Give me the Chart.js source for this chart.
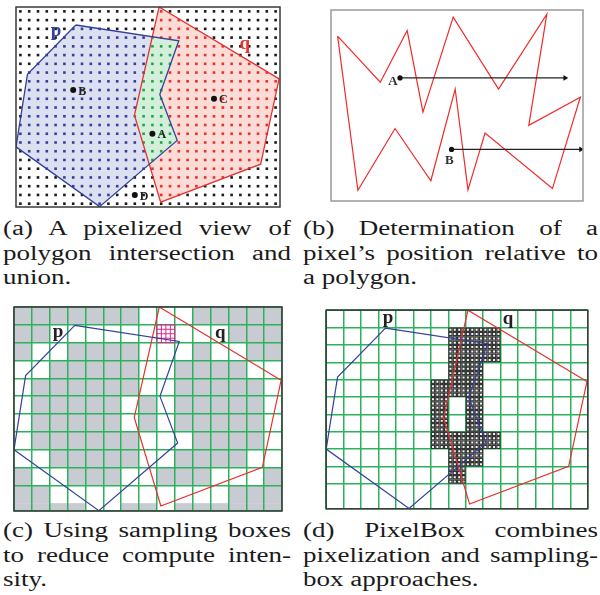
<!DOCTYPE html>
<html><head><meta charset="utf-8">
<script src="https://cdn.jsdelivr.net/npm/chart.js@4/dist/chart.umd.min.js"></script>
<style>
html,body{margin:0;padding:0;background:#fff}
body{width:600px;height:595px;position:relative;overflow:hidden}
canvas.pc{position:absolute}
.cap{position:absolute;font-family:"Liberation Serif","Times New Roman",serif;font-size:20px;line-height:24.5px;color:#1a1a1a;transform:scaleX(1.35);transform-origin:0 0}
.cap div{white-space:nowrap}
.cap div.j{text-align:justify;text-align-last:justify}
</style></head><body>
<canvas id="ca" class="pc" width="272" height="208" style="left:12px;top:3px"></canvas>
<canvas id="cb" class="pc" width="260" height="199" style="left:327px;top:6px"></canvas>
<canvas id="cc" class="pc" width="272" height="208" style="left:12px;top:305px"></canvas>
<canvas id="cd" class="pc" width="272" height="209" style="left:321px;top:305px"></canvas>
<div id="capA" class="cap" style="left:3px;top:216px;width:213.3px"></div>
<div id="capB" class="cap" style="left:303px;top:216px;width:218.5px"></div>
<div id="capC" class="cap" style="left:3px;top:518px;width:213.3px"></div>
<div id="capD" class="cap" style="left:303px;top:518px;width:218.5px"></div>
<script>
// ================= DATA =================
// polygons p and q (grid-cell units, y downward)
const P_X = [3.40, 9.25, 8.17, 9.16, 4.75, 0.00, 0.65];
const P_Y = [1.03, 1.93, 5.01, 7.63, 11.42, 8.00, 3.85];
const Q_X = [8.13, 14.95, 13.90, 8.22, 6.73];
const Q_Y = [0.00, 4.11, 8.99, 11.16, 6.19];
const GRID_X_MAX = 15;
const GRID_Y_MAX = 11.44;
// labelled pixels in (a)
const MARK_NAMES = ['A', 'B', 'C', 'D'];
const MARK_X = [7.75, 3.25, 11.25, 6.75];
const MARK_Y = [7.25, 4.75, 5.25, 10.75];
// zig-zag polygon of (b)
const ZZ_X = [6.7, 50.0, 77.3, 93.3, 124.0, 170.0, 219.0, 200.7, 253.0, 224.7, 156.3, 139.0, 126.0, 101.3, 65.0, 27.3];
const ZZ_Y = [26.7, 73.7, 21.0, 104.3, 7.3, 80.7, 4.3, 117.7, 89.0, 182.3, 125.7, 183.7, 80.7, 174.3, 121.0, 184.0];
const B_X_MAX = 255.7, B_Y_MAX = 195;
const RAY_NAMES = ['A', 'B'];
const RAY_X0 = [70.0, 122.3];
const RAY_X1 = [237.5, 253.5];
const RAY_Y = [69.3, 142.3];
// (c) sampling boxes that need no pixel test (grey), listed by row
const GREY_CELLS = [
  [0,1,2,3,4,5,6,10,11,12,13,14],
  [0,1,12,13,14],
  [0,3,4,5,6,10,13,14],
  [2,3,4,5,6,9,10,11,12],
  [1,2,3,4,5,6,9,10,11,12,13],
  [1,2,3,4,5,7,9,10,11,12,13],
  [1,2,3,4,5,7,9,10,11,12,13],
  [1,2,3,4,5,6,10,11,12,13],
  [2,3,4,5,6,9,10,11,12],
  [0,3,4,5,8,9,10,14],
  [0,1,12,13,14],
  [0,1,2,3,6,7,9,10,11,12,13,14]
];
const SAMPLE_CELL_COL = 8, SAMPLE_CELL_ROW = 1, SAMPLE_SUBDIV = 4;
// (d) boxes evaluated pixel by pixel, listed by row
const PIXEL_CELLS = [
  [], [7,8,9], [7,8,9], [7,8], [6,7,8], [6,8], [6,8], [6,7,8,9], [7,8], [7], [], []
];
const PIXELS_PER_BOX = 4;
// captions
const CAP_A = ['(a) A pixelized view of', 'polygon intersection and', 'union.'];
const CAP_B = ['(b) Determination of a', 'pixel\u2019s position relative to', 'a polygon.'];
const CAP_C = ['(c) Using sampling boxes', 'to reduce compute inten-', 'sity.'];
const CAP_D = ['(d) PixelBox combines', 'pixelization and sampling-', 'box approaches.'];

// ================= STYLE =================
const BLUE = '#34409c', RED = '#e8302e', GREEN_DOT = '#1fa64a';
const FILL_P = '#dde0f0', FILL_Q = '#fbdcd6', FILL_PQ = '#d3eed9';
const GRID_GREEN = '#2bb25c', GREY = '#c9cbd2', PINK = '#e0268c';
const SERIF = '"Liberation Serif","Times New Roman",serif';

function captions(id, lines) {
  const el = document.getElementById(id);
  lines.forEach((t, i) => {
    const d = document.createElement('div');
    d.textContent = t;
    if (i < lines.length - 1) d.className = 'j';
    el.appendChild(d);
  });
}
captions('capA', CAP_A); captions('capB', CAP_B); captions('capC', CAP_C); captions('capD', CAP_D);

const pts = (xs, ys) => xs.map((x, i) => ({x, y: ys[i]}));
const closed = (xs, ys) => { const a = pts(xs, ys); a.push(a[0]); return a; };

function inPoly(x, y, xs, ys) {
  let inside = false;
  for (let i = 0, j = xs.length - 1; i < xs.length; j = i++) {
    if ((ys[i] > y) !== (ys[j] > y) && x < (xs[j] - xs[i]) * (y - ys[i]) / (ys[j] - ys[i]) + xs[i]) inside = !inside;
  }
  return inside;
}

function polyPath(chart, xs, ys) {
  const ctx = chart.ctx, sx = chart.scales.x, sy = chart.scales.y;
  ctx.beginPath();
  xs.forEach((x, i) => {
    const px = sx.getPixelForValue(x), py = sy.getPixelForValue(ys[i]);
    if (i) ctx.lineTo(px, py); else ctx.moveTo(px, py);
  });
  ctx.closePath();
}

const framePlugin = {
  id: 'frame',
  afterDraw(chart, args, o) {
    const a = chart.chartArea, ctx = chart.ctx;
    ctx.save(); ctx.strokeStyle = o.color; ctx.lineWidth = o.width;
    ctx.strokeRect(a.left, a.top, a.right - a.left, a.bottom - a.top);
    ctx.restore();
  }
};
const labelPlugin = {
  id: 'labels',
  afterDatasetsDraw(chart, args, o) {
    const ctx = chart.ctx, sx = chart.scales.x, sy = chart.scales.y;
    ctx.save();
    (o.items || []).forEach(it => {
      ctx.font = it.font; ctx.fillStyle = it.color;
      ctx.textAlign = it.align || 'center'; ctx.textBaseline = 'middle';
      ctx.fillText(it.text, sx.getPixelForValue(it.x) + (it.dx || 0), sy.getPixelForValue(it.y) + (it.dy || 0));
    });
    ctx.restore();
  }
};

function baseOptions(xmax, ymax, showGrid, extraPlugins) {
  const axis = (max, rev) => ({
    type: 'linear', min: 0, max: max, reverse: rev, display: showGrid,
    ticks: {display: false, stepSize: 1},
    grid: {display: showGrid, color: GRID_GREEN, lineWidth: 1.5, drawTicks: false},
    border: {display: false}
  });
  return {
    responsive: false, animation: false, events: [],
    layout: {padding: 2},
    plugins: Object.assign({legend: {display: false}, tooltip: {enabled: false}}, extraPlugins),
    scales: {x: axis(xmax, false), y: axis(ymax, true)}
  };
}
const outline = (data, color, w) => ({type: 'scatter', data, showLine: true, borderColor: color, borderWidth: w, pointRadius: 0, fill: false});

// ================= (a) =================
(function () {
  const groups = {out: [], p: [], q: [], pq: []};
  for (let gy = 0.25; gy < GRID_Y_MAX; gy += 0.5) {
    for (let gx = 0.25; gx < GRID_X_MAX; gx += 0.5) {
      if (MARK_X.some((mx, i) => Math.abs(mx - gx) < 0.01 && Math.abs(MARK_Y[i] - gy) < 0.01)) continue;
      const ip = inPoly(gx, gy, P_X, P_Y), iq = inPoly(gx, gy, Q_X, Q_Y);
      (ip && iq ? groups.pq : ip ? groups.p : iq ? groups.q : groups.out).push({x: gx, y: gy});
    }
  }
  const dots = (data, c) => ({type: 'scatter', data, pointStyle: 'rect', pointRadius: 1.85, backgroundColor: c, borderWidth: 0});
  const fills = {
    id: 'fills',
    beforeDatasetsDraw(chart) {
      const ctx = chart.ctx; ctx.save();
      polyPath(chart, P_X, P_Y); ctx.fillStyle = FILL_P; ctx.fill();
      polyPath(chart, Q_X, Q_Y); ctx.fillStyle = FILL_Q; ctx.fill();
      polyPath(chart, P_X, P_Y); ctx.clip();
      polyPath(chart, Q_X, Q_Y); ctx.fillStyle = FILL_PQ; ctx.fill();
      ctx.restore();
    }
  };
  const markLabels = MARK_NAMES.map((n, i) => ({text: n, x: MARK_X[i], y: MARK_Y[i], dx: 5, dy: 1.5, align: 'left', font: 'bold 12px ' + SERIF, color: '#222'}));
  new Chart(document.getElementById('ca'), {
    type: 'scatter',
    data: {datasets: [
      outline(closed(P_X, P_Y), BLUE, 1.3),
      outline(closed(Q_X, Q_Y), RED, 1.3),
      {type: 'scatter', data: pts(MARK_X, MARK_Y), pointStyle: 'circle', pointRadius: 3, backgroundColor: '#111', borderWidth: 0},
      dots(groups.out, '#1a1a1a'),
      dots(groups.p, BLUE),
      dots(groups.q, RED),
      dots(groups.pq, GREEN_DOT)
    ]},
    options: baseOptions(GRID_X_MAX, GRID_Y_MAX, false, {
      frame: {color: '#3a3a3a', width: 1.5},
      labels: {items: [
        {text: 'p', x: 2.28, y: 1.36, font: 'bold 19px ' + SERIF, color: BLUE},
        {text: 'q', x: 13.0, y: 2.11, font: 'bold 19px ' + SERIF, color: RED}
      ].concat(markLabels)}
    }),
    plugins: [fills, framePlugin, labelPlugin]
  });
})();

// ================= (b) =================
(function () {
  const rays = RAY_NAMES.map((n, i) => ({
    type: 'scatter', showLine: true, borderColor: '#222', borderWidth: 1.3,
    data: [{x: RAY_X0[i], y: RAY_Y[i]}, {x: RAY_X1[i], y: RAY_Y[i]}],
    pointStyle: ['circle', 'triangle'], pointRadius: [2.6, 3.2], rotation: [0, 90],
    backgroundColor: '#111', pointBorderWidth: 0
  }));
  const rayLabels = [
    {text: RAY_NAMES[0], x: RAY_X0[0], y: RAY_Y[0], dx: -7, dy: 3.5},
    {text: RAY_NAMES[1], x: RAY_X0[1], y: RAY_Y[1], dx: -2.3, dy: 11.7}
  ].map(o => Object.assign(o, {font: 'bold 13px ' + SERIF, color: '#333'}));
  new Chart(document.getElementById('cb'), {
    type: 'scatter',
    data: {datasets: rays.concat([outline(closed(ZZ_X, ZZ_Y), '#f02a2a', 1.2)])},
    options: baseOptions(B_X_MAX, B_Y_MAX, false, {
      frame: {color: '#9a9a9a', width: 1.5},
      labels: {items: rayLabels}
    }),
    plugins: [framePlugin, labelPlugin]
  });
})();

// ================= (c) =================
(function () {
  const greyPlugin = {
    id: 'grey',
    beforeDraw(chart) {
      const ctx = chart.ctx, sx = chart.scales.x, sy = chart.scales.y, a = chart.chartArea;
      ctx.save(); ctx.fillStyle = GREY;
      GREY_CELLS.forEach((cols, r) => cols.forEach(c => {
        const x0 = sx.getPixelForValue(c), x1 = sx.getPixelForValue(c + 1);
        const y0 = sy.getPixelForValue(r), y1 = Math.min(sy.getPixelForValue(r + 1), a.bottom);
        ctx.fillRect(x0, y0, x1 - x0, y1 - y0);
      }));
      ctx.restore();
    },
    beforeDatasetsDraw(chart) {
      const ctx = chart.ctx, sx = chart.scales.x, sy = chart.scales.y;
      ctx.save(); ctx.strokeStyle = PINK; ctx.lineWidth = 1;
      for (let k = 0; k <= SAMPLE_SUBDIV; k++) {
        const f = k / SAMPLE_SUBDIV;
        const x = sx.getPixelForValue(SAMPLE_CELL_COL + f), y = sy.getPixelForValue(SAMPLE_CELL_ROW + f);
        ctx.beginPath();
        ctx.moveTo(x, sy.getPixelForValue(SAMPLE_CELL_ROW)); ctx.lineTo(x, sy.getPixelForValue(SAMPLE_CELL_ROW + 1));
        ctx.moveTo(sx.getPixelForValue(SAMPLE_CELL_COL), y); ctx.lineTo(sx.getPixelForValue(SAMPLE_CELL_COL + 1), y);
        ctx.stroke();
      }
      ctx.restore();
    }
  };
  new Chart(document.getElementById('cc'), {
    type: 'scatter',
    data: {datasets: [outline(closed(P_X, P_Y), BLUE, 1.2), outline(closed(Q_X, Q_Y), RED, 1.2)]},
    options: baseOptions(GRID_X_MAX, GRID_Y_MAX, true, {
      frame: {color: '#3a3a3a', width: 1.5},
      labels: {items: [
        {text: 'p', x: 2.47, y: 1.40, font: 'bold 19px ' + SERIF, color: '#222'},
        {text: 'q', x: 11.54, y: 1.46, font: 'bold 19px ' + SERIF, color: '#222'}
      ]}
    }),
    plugins: [greyPlugin, framePlugin, labelPlugin]
  });
})();

// ================= (d) =================
(function () {
  const px = [];
  const step = 1 / PIXELS_PER_BOX;
  PIXEL_CELLS.forEach((cols, r) => cols.forEach(c => {
    for (let i = 0; i < PIXELS_PER_BOX; i++) for (let j = 0; j < PIXELS_PER_BOX; j++)
      px.push({x: c + (i + 0.5) * step, y: r + (j + 0.5) * step});
  }));
  new Chart(document.getElementById('cd'), {
    type: 'scatter',
    data: {datasets: [
      outline(closed(P_X, P_Y), BLUE, 1.2),
      outline(closed(Q_X, Q_Y), RED, 1.2),
      {type: 'scatter', data: px, pointStyle: 'rect', pointRadius: 2.25, backgroundColor: '#f4f4f4', borderColor: '#333', borderWidth: 1.2}
    ]},
    options: baseOptions(GRID_X_MAX, GRID_Y_MAX, true, {
      frame: {color: '#3a3a3a', width: 1.5},
      labels: {items: [
        {text: 'p', x: 3.55, y: 0.47, font: 'bold 19px ' + SERIF, color: '#222'},
        {text: 'q', x: 10.43, y: 0.53, font: 'bold 19px ' + SERIF, color: '#222'}
      ]}
    }),
    plugins: [framePlugin, labelPlugin]
  });
})();
</script>
</body></html>
